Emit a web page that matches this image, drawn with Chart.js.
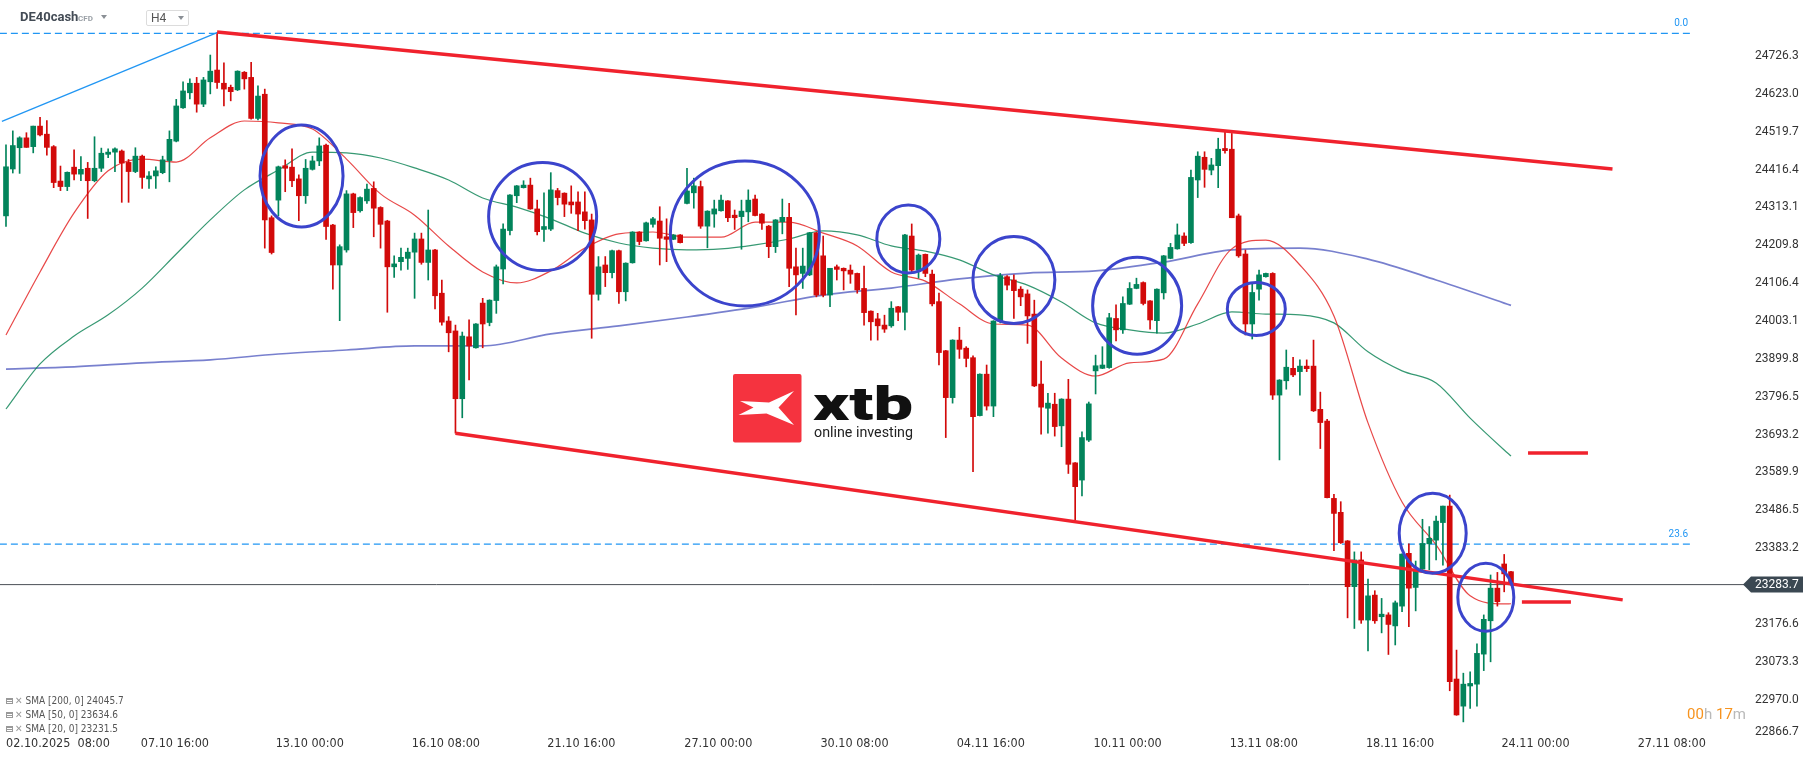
<!DOCTYPE html>
<html><head><meta charset="utf-8">
<script src="https://cdn.jsdelivr.net/npm/chart.js@4.4.1/dist/chart.umd.min.js"></script>
<style>
html,body{margin:0;padding:0;background:#fff;overflow:hidden}
#wrap{position:relative;width:1815px;height:761px;font-family:Roboto,"Noto Sans",sans-serif}
canvas{display:block;position:absolute;left:0;top:0}
.hdr{position:absolute;white-space:nowrap}
#sym{left:20px;top:9px;font:bold 13px Roboto,sans-serif;color:#434b55}
#cfd{left:78px;top:14px;font:bold 8px Roboto,sans-serif;color:#9aa0a6}
.tri{position:absolute;width:0;height:0;border-left:3.5px solid transparent;border-right:3.5px solid transparent;border-top:4px solid #8a8f95}
#tf{left:146px;top:10px;width:41px;height:14px;border:1px solid #dcdcdc;border-radius:2px}
#tf span{position:absolute;left:4px;top:0px;font:12px Roboto,sans-serif;color:#555}
.leg{position:absolute;left:6px;font:10px "Liberation Sans Narrow","DejaVu Sans Condensed",sans-serif;color:#555;white-space:nowrap;line-height:12px}
.leg i{display:inline-block;width:7px;height:6px;margin-right:2px;vertical-align:0px;background:repeating-linear-gradient(#999 0 1px,#fff 1px 2px);border:1px solid #999;box-sizing:border-box}
.leg b{font-weight:bold;color:#999;margin-right:3px;font-size:10px}
#cd{position:absolute;right:69px;top:705px;font:15px Roboto,sans-serif;white-space:nowrap}
#cd .o{color:#f7931e}#cd .g{color:#b9b9b9}
</style></head><body>
<div id="wrap">
<canvas id="c" width="1815" height="761"></canvas>
<div class="hdr" id="sym">DE40cash</div>
<div class="hdr" id="cfd">CFD</div>
<div class="tri" style="left:101px;top:15px"></div>
<div class="hdr" id="tf"><span>H4</span><div class="tri" style="left:31px;top:5px"></div></div>
<div class="leg" style="top:695px"><i></i><b>✕</b>SMA [200, 0] 24045.7</div>
<div class="leg" style="top:709px"><i></i><b>✕</b>SMA [50, 0] 23634.6</div>
<div class="leg" style="top:723px"><i></i><b>✕</b>SMA [20, 0] 23231.5</div>
<div id="cd"><span class="o">00</span><span class="g">h </span><span class="o">17</span><span class="g">m</span></div>
</div>
<script>
// ---------- DATA (H4 candles, DE40cash) ----------
const opens = [
24290,24418,24476,24503,24479,24535,24513,24479,24385,24370,
24423,24404,24420,24386,24420,24458,24464,24467,24436,24411,
24453,24391,24399,24408,24441,24494,24585,24626,24652,24595,
24656,24688,24652,24641,24634,24682,24668,24556,24622,24285,
24333,24427,24423,24391,24345,24417,24440,24483,24265,24156,
24197,24350,24304,24331,24365,24313,24276,24151,24165,24174,
24191,24227,24163,24197,24079,24003,23976,23791,23960,23930,
24052,23999,24059,24145,24250,24345,24367,24374,24309,24253,
24254,24359,24352,24328,24328,24301,24279,24076,24156,24135,
24195,24083,24162,24246,24222,24267,24276,24233,24226,24238,
24324,24353,24370,24262,24295,24304,24331,24292,24288,24301,
24336,24295,24262,24206,24274,24286,24151,24133,24129,24244,
24181,24074,24151,24147,24142,24133,24092,24030,24009,23992,
23990,24042,24027,24235,24142,24185,24131,24056,23922,23794,
23951,23929,23903,23745,23858,23771,24003,24124,24115,24090,
24077,24022,23831,23765,23776,23717,23790,23616,23569,23678,
23867,23874,23876,24010,23979,24049,24092,24108,24058,24004,
24080,24174,24200,24235,24217,24388,24450,24415,24427,24474,
24472,24290,24186,23995,24090,24124,24133,23801,23840,23874,
23865,23880,23880,23762,23730,23519,23481,23403,23278,23351,
23187,23255,23196,23201,23171,23225,23369,23276,23326,23395,
23405,23453,23498,23026,22952,23007,23012,23094,23185,23274,
23340,23319];
const highs = [
24484,24522,24506,24517,24535,24559,24550,24482,24426,24410,
24470,24452,24436,24506,24475,24473,24476,24470,24444,24476,
24456,24411,24424,24453,24522,24608,24656,24664,24668,24668,
24729,24790,24708,24647,24686,24684,24709,24645,24636,24290,
24426,24443,24473,24402,24444,24453,24503,24486,24267,24211,
24359,24352,24342,24377,24383,24315,24278,24181,24202,24202,
24243,24243,24306,24199,24115,24015,23992,23973,24006,23996,
24065,24061,24156,24268,24348,24373,24386,24393,24333,24353,
24408,24365,24353,24372,24356,24356,24295,24179,24179,24197,
24197,24162,24247,24247,24273,24286,24315,24282,24239,24239,
24420,24393,24385,24304,24333,24347,24332,24306,24333,24361,
24347,24296,24264,24280,24336,24324,24202,24202,24245,24245,
24235,24147,24156,24148,24156,24134,24153,24031,24024,24019,
24056,24043,24240,24268,24186,24186,24142,24079,23923,23952,
23986,23933,23908,23859,23883,24004,24133,24127,24129,24097,
24088,24060,23894,23806,23806,23791,23844,23617,23701,23782,
23910,23933,24024,24047,24069,24108,24120,24110,24059,24091,
24182,24215,24268,24244,24415,24465,24465,24447,24502,24520,
24515,24295,24197,24106,24142,24134,24135,23843,23924,23904,
23897,23897,23951,23809,23735,23530,23510,23404,23373,23373,
23299,23267,23246,23207,23239,23368,23395,23348,23462,23442,
23471,23498,23528,23105,23042,23046,23122,23201,23310,23317,
23366,23320];
const lows = [
24261,24407,24406,24477,24462,24508,24456,24367,24359,24359,
24388,24386,24283,24383,24411,24449,24411,24327,24327,24408,
24365,24365,24365,24405,24383,24492,24583,24609,24573,24588,
24623,24638,24590,24604,24632,24636,24554,24552,24202,24186,
24290,24356,24370,24277,24324,24415,24427,24226,24090,24004,
24191,24258,24300,24324,24233,24202,24027,24122,24142,24144,
24065,24158,24115,24036,23992,23919,23697,23739,23842,23929,
23930,23990,24024,24104,24238,24326,24366,24308,24238,24220,
24250,24320,24288,24297,24250,24254,23956,24060,24097,24121,
24051,24058,24161,24211,24221,24259,24156,24165,24225,24216,
24323,24311,24256,24203,24259,24303,24274,24253,24199,24274,
24290,24253,24176,24190,24241,24097,24020,24092,24127,24069,
24069,24042,24115,24088,24106,24079,23992,23951,23951,23972,
23986,24004,23979,24133,24120,24124,24044,23883,23685,23779,
23901,23878,23592,23744,23760,23742,23998,24088,24010,24045,
23942,23824,23694,23697,23689,23660,23587,23460,23526,23674,
23804,23873,23874,23949,23969,24048,24091,24047,23981,23970,
24063,24173,24199,24209,24215,24340,24368,24402,24367,24461,
24285,24177,23965,23954,24060,24123,23789,23624,23817,23851,
23801,23865,23756,23655,23520,23376,23396,23193,23164,23178,
23103,23178,23152,23093,23119,23210,23169,23212,23325,23324,
23351,23337,22994,22927,22909,22946,22952,23049,23073,23225,
23264,23282];
const closes = [
24424,24482,24503,24477,24535,24511,24477,24381,24370,24409,
24404,24417,24386,24420,24461,24464,24473,24434,24411,24453,
24395,24399,24413,24443,24499,24590,24631,24652,24595,24661,
24685,24654,24636,24629,24685,24664,24556,24617,24279,24190,
24424,24420,24386,24345,24420,24440,24481,24261,24156,24206,
24350,24299,24340,24363,24311,24267,24151,24159,24177,24191,
24227,24163,24197,24072,24000,23971,23791,23962,23935,23995,
23995,24060,24151,24254,24347,24372,24374,24309,24247,24261,
24361,24340,24322,24320,24295,24277,24076,24151,24135,24195,
24083,24161,24246,24220,24271,24282,24229,24226,24238,24217,
24358,24372,24262,24303,24309,24333,24285,24285,24303,24333,
24291,24270,24206,24279,24286,24147,24129,24153,24244,24074,
24074,24147,24144,24140,24131,24088,24026,24001,23990,23981,
24038,24027,24238,24142,24183,24133,24050,23917,23794,23951,
23926,23901,23742,23858,23771,24003,24127,24101,24086,24069,
24017,23826,23768,23779,23715,23790,23612,23551,23685,23777,
23881,23883,24012,23979,24051,24092,24103,24051,24006,24090,
24181,24204,24238,24215,24395,24453,24417,24429,24472,24468,
24285,24181,23995,24081,24129,24133,23801,23842,23877,23856,
23880,23873,23758,23726,23521,23478,23398,23278,23351,23187,
23253,23185,23203,23175,23234,23367,23274,23324,23396,23410,
23457,23498,23019,22928,23012,23014,23096,23189,23274,23237,
23313,23283.7];

// moving averages (candle index -> value)
const sma20Idx = [0,5,10,15,20,25,30,35,40,45,50,55,60,65,70,75,80,85,90,95,100,105,110,115,120,125,130,135,140,145,150,155,160,165,170,175,180,185,190,195,200,205,210,215,220,221];
const sma20 = [23965,24137,24298,24413,24445,24437,24503,24549,24544,24527,24445,24350,24292,24208,24137,24107,24140,24202,24241,24246,24232,24232,24273,24273,24243,24208,24137,24112,24050,23995,23992,23902,23853,23889,23899,24050,24200,24224,24156,24017,23725,23509,23392,23253,23231,23231.5];
const sma50Idx = sma20Idx;
const sma50 = [23763,23886,23962,24020,24093,24186,24279,24361,24415,24464,24462,24448,24421,24388,24339,24314,24282,24243,24216,24202,24197,24200,24211,24227,24249,24238,24208,24194,24170,24129,24101,24055,23998,23979,23970,23995,24028,24022,24020,23998,23919,23867,23834,23738,23651,23634.6];
const sma200Idx = [0,10,20,30,40,50,60,70,80,90,100,110,120,130,140,150,160,170,180,190,200,210,220,221];
const sma200 = [23872,23878,23889,23897,23913,23924,23935,23935,23968,23990,24014,24041,24074,24093,24118,24134,24140,24164,24197,24202,24172,24115,24052,24045.7];

// drawings (index, price)
const channelUpperIdx = [31, 235.9],  channelUpperPrice = [24792, 24418];
const channelLowerIdx = [66, 237.4],  channelLowerPrice = [23697, 23242];
const fibRayIdx = [-0.6, 31],         fibRayPrice = [24548, 24790];
const fibNames = ['0.0', '23.6'];
const fibPrices = [24788, 23394];
const fibSpanIdx = [-0.9, 247.3];
const lastPrice = 23283.7;
const stub1Idx = [223.5, 232.3], stub1Price = 23643;
const stub2Idx = [222.6, 229.8], stub2Price = 23236;
const circleIdx   = [43.4, 78.8, 108.5, 132.5, 148.0, 166.1, 183.6, 209.5, 217.3];
const circlePrice = [24399, 24288, 24242, 24227, 24115, 24045, 24036, 23424, 23249];

// axis labels
const yTickLabels = ['24726.3','24623.0','24519.7','24416.4','24313.1','24209.8','24106.4','24003.1','23899.8','23796.5','23693.2','23589.9','23486.5','23383.2','23176.6','23073.3','22970.0','22866.7'];
const xTickLabels = ['02.10.2025  08:00','07.10 16:00','13.10 00:00','16.10 08:00','21.10 16:00','27.10 00:00','30.10 08:00','04.11 16:00','10.11 00:00','13.11 08:00','18.11 16:00','24.11 00:00','27.11 08:00'];
const xTickIdx = [4.8,24.8,44.6,64.6,84.5,104.6,124.6,144.6,164.7,184.7,204.7,224.6,244.6];

// ---------- STYLE ----------
const GREEN = '#02845b', RED = '#d20a0a', TREND = '#f0222d', FIB = '#2196f3', CIRC = '#3b44cc';
const circleRadiiPx = [[41.5,51],[54,54],[74.5,72.5],[31.5,34],[41,43.5],[44.5,48.5],[29,26.5],[33.5,40],[28,34]];

const ii = closes.map((_, i) => i);
const upCol = i => closes[i] >= opens[i] ? GREEN : RED;
const pts = (xs, ys) => xs.map((x, k) => ({x, y: Array.isArray(ys) ? ys[k] : ys}));

const datasets = [
  {type:'line', data: pts(fibSpanIdx, fibPrices[0]), borderColor: FIB, borderWidth: 1.2, borderDash:[7,4], pointRadius:0, order: 20},
  {type:'line', data: pts(fibSpanIdx, fibPrices[1]), borderColor: FIB, borderWidth: 1.2, borderDash:[7,4], pointRadius:0, order: 20},
  {type:'line', data: pts([-0.9, 256], lastPrice), borderColor: '#4a4f55', borderWidth: 1, pointRadius:0, order: 19},
  {type:'line', data: pts(sma200Idx, sma200), borderColor: 'rgba(75,85,190,0.75)', borderWidth: 1.7, pointRadius:0, cubicInterpolationMode:'monotone', order: 15},
  {type:'line', data: pts(sma50Idx, sma50), borderColor: 'rgba(20,135,90,0.85)', borderWidth: 1.2, pointRadius:0, cubicInterpolationMode:'monotone', order: 14},
  {type:'line', data: pts(sma20Idx, sma20), borderColor: 'rgba(228,40,40,0.85)', borderWidth: 1.2, pointRadius:0, cubicInterpolationMode:'monotone', order: 13},
  {type:'bar', data: ii.map(i => ({x:i, y:[lows[i], highs[i]]})), backgroundColor: ii.map(upCol), barThickness: 1, grouped:false, borderWidth:0, order: 10},
  {type:'bar', data: ii.map(i => ({x:i, y:[opens[i], closes[i]]})), backgroundColor: ii.map(upCol), barThickness: 5, grouped:false, borderWidth:0, minBarLength:1, order: 9},
  {type:'line', data: pts(fibRayIdx, fibRayPrice), borderColor: FIB, borderWidth: 1.3, pointRadius:0, order: 3},
  {type:'line', data: pts(channelUpperIdx, channelUpperPrice), borderColor: TREND, borderWidth: 3.5, pointRadius:0, order: 2},
  {type:'line', data: pts(channelLowerIdx, channelLowerPrice), borderColor: TREND, borderWidth: 3.5, pointRadius:0, order: 2},
  {type:'line', data: pts(stub1Idx, stub1Price), borderColor: TREND, borderWidth: 3.5, pointRadius:0, order: 2},
  {type:'line', data: pts(stub2Idx, stub2Price), borderColor: TREND, borderWidth: 3.5, pointRadius:0, order: 2},
];

const X_LABEL_FONT = '12.5px "Liberation Sans Narrow","DejaVu Sans Condensed",sans-serif';

const overlay = {
  id: 'overlay',
  beforeDatasetsDraw(chart) {
    const ctx = chart.ctx;
    ctx.save();
    // xtb watermark logo
    ctx.fillStyle = '#f5333f';
    ctx.beginPath(); ctx.roundRect(733, 374, 68.5, 68.5, 2); ctx.fill();
    ctx.fillStyle = '#fff';
    ctx.beginPath();
    [[740,401],[769,402.5],[794,391],[778.5,407.5],[794,425],[766.5,413.5],[738.5,415],[753.5,407.5]].forEach((p,k)=> k?ctx.lineTo(p[0],p[1]):ctx.moveTo(p[0],p[1]));
    ctx.closePath(); ctx.fill();
    ctx.fillStyle = '#111';
    ctx.font = '900 46px Roboto, sans-serif';
    ctx.textBaseline = 'alphabetic';
    let w = ctx.measureText('xtb').width;
    ctx.save(); ctx.translate(813, 420); ctx.scale(100 / w, 1); ctx.fillText('xtb', 0, 0); ctx.restore();
    ctx.font = '14px Roboto, sans-serif';
    ctx.fillStyle = '#222';
    w = ctx.measureText('online investing').width;
    ctx.save(); ctx.translate(814, 437); ctx.scale(99 / w, 1); ctx.fillText('online investing', 0, 0); ctx.restore();
    ctx.restore();
  },
  afterDatasetsDraw(chart) {
    const {ctx, scales:{x, y}} = chart;
    const right = chart.chartArea.right;
    ctx.save();
    // circles
    ctx.strokeStyle = CIRC; ctx.lineWidth = 3;
    circleIdx.forEach((c, k) => {
      ctx.beginPath();
      ctx.ellipse(x.getPixelForValue(c), y.getPixelForValue(circlePrice[k]), circleRadiiPx[k][0], circleRadiiPx[k][1], 0, 0, Math.PI*2);
      ctx.stroke();
    });
    // fib labels
    ctx.fillStyle = FIB; ctx.font = '10px Roboto, sans-serif'; ctx.textAlign = 'right'; ctx.textBaseline = 'middle';
    fibNames.forEach((n, k) => ctx.fillText(n, x.getPixelForValue(fibSpanIdx[1]) - 2, y.getPixelForValue(fibPrices[k]) - 10));
    // y axis labels (price scale)
    ctx.fillStyle = '#333'; ctx.font = '12px Roboto, sans-serif'; ctx.textAlign = 'left';
    yTickLabels.forEach(t => {
      const py = Math.min(y.getPixelForValue(parseFloat(t)), 732);
      ctx.fillText(t, right + 10, py);
    });
    // last price tag
    const py = y.getPixelForValue(lastPrice);
    ctx.fillStyle = '#3b4852';
    ctx.beginPath(); ctx.moveTo(right - 2, py); ctx.lineTo(right + 6, py - 8); ctx.lineTo(right + 58, py - 8); ctx.lineTo(right + 58, py + 8); ctx.lineTo(right + 6, py + 8); ctx.closePath(); ctx.fill();
    ctx.fillStyle = '#fff'; ctx.font = '12px Roboto, sans-serif'; ctx.textAlign = 'left';
    ctx.fillText(lastPrice.toFixed(1), right + 10, py + 0.5);
    // x axis labels
    ctx.fillStyle = '#333'; ctx.font = X_LABEL_FONT; ctx.textBaseline = 'middle';
    xTickLabels.forEach((t, k) => {
      const px = x.getPixelForValue(xTickIdx[k]);
      const w = ctx.measureText(t).width;
      ctx.fillText(t, Math.max(6, px - w/2), 744);
    });
    ctx.restore();
  }
};

new Chart(document.getElementById('c'), {
  type: 'bar',
  data: { datasets },
  options: {
    responsive: false, animation: false, events: [],
    layout: { padding: 0 },
    plugins: { legend: {display:false}, tooltip: {enabled:false} },
    scales: {
      x: { type:'linear', min:-0.88, max:255.36, offset:false, display:false },
      y: {
        type:'linear', position:'right', min:22802.3, max:24879.2,
        grid: {display:false, drawTicks:false}, border: {display:false},
        afterFit: s => { s.width = 70; },
        ticks: { display:false }
      }
    }
  },
  plugins: [overlay]
});
</script>
</body></html>
